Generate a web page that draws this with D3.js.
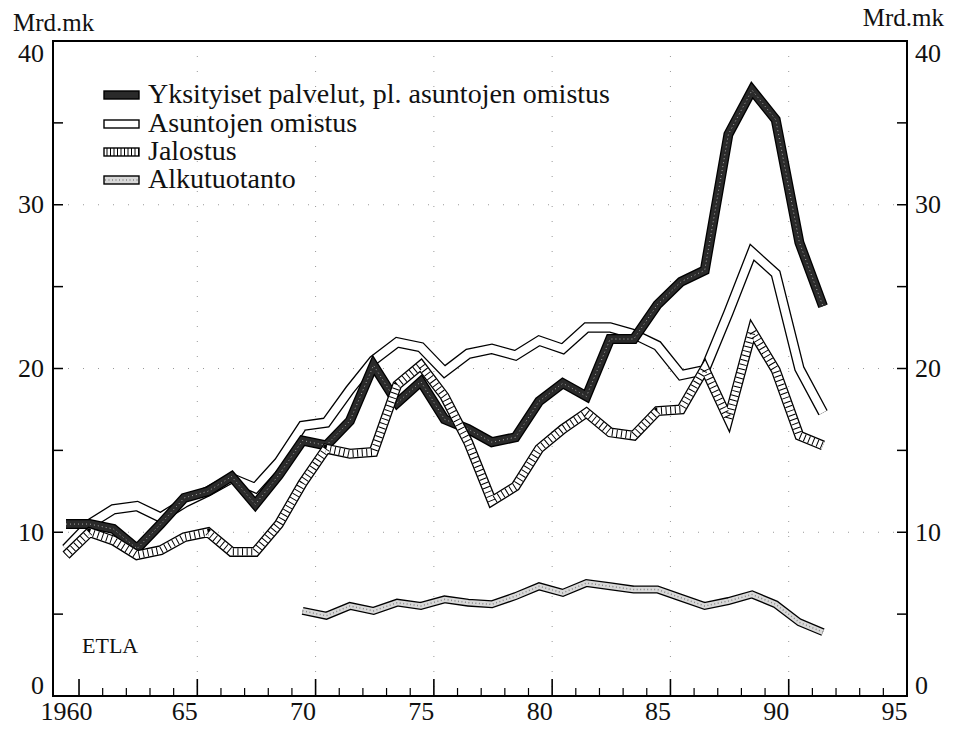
<!DOCTYPE html>
<html><head><meta charset="utf-8">
<script src="https://cdn.jsdelivr.net/npm/d3@7/dist/d3.min.js"></script>
<style>body{margin:0;background:#fff}text{font-family:"Liberation Serif","Times New Roman",serif;fill:#111}</style>
</head><body><svg id="c" width="957" height="729"></svg>
<script>
const years = d3.range(1960, 1993);
const yksityiset = [10.5,10.5,10.2,9.0,10.5,12.1,12.5,13.4,11.7,13.5,15.6,15.3,16.8,20.2,17.9,19.2,16.9,16.3,15.5,15.8,18.0,19.1,18.3,21.8,21.8,23.9,25.3,26.0,34.3,37.0,35.2,27.7,23.8];
const asuntojen = [9.0,10.5,11.4,11.6,10.9,11.8,12.5,13.3,12.7,14.3,16.5,16.7,18.7,20.5,21.6,21.3,19.8,20.9,21.2,20.8,21.7,21.2,22.5,22.5,22.1,21.4,19.6,19.9,23.4,27.1,25.8,20.0,17.3];
const jalostus = [8.6,10.0,9.5,8.6,8.9,9.7,10.0,8.8,8.8,10.5,13.0,15.1,14.8,14.9,19.0,20.2,18.3,15.5,11.9,12.8,15.1,16.3,17.3,16.1,15.9,17.4,17.5,20.0,16.9,22.3,19.9,15.9,15.3];
const alkutuotanto = [null,null,null,null,null,null,null,null,null,null,5.2,4.9,5.5,5.2,5.7,5.5,5.9,5.7,5.6,6.1,6.7,6.3,6.9,6.7,6.5,6.5,6.0,5.5,5.8,6.2,5.6,4.5,3.9];
const legendLabels = ["Yksityiset palvelut, pl. asuntojen omistus","Asuntojen omistus","Jalostus","Alkutuotanto"];
const xTickLabels = ["1960","65","70","75","80","85","90","95"];
const yTickValues = [0,10,20,30,40];

const svg = d3.select("#c");
const L=53, R=907, T=41, B=696;
const x = d3.scaleLinear().domain([1959.45,1995.55]).range([L,R]);
const y = d3.scaleLinear().domain([0,40]).range([B,T]);

// faint dotted grid
const g = svg.append("g");
[1965,1970,1975,1980,1985,1990].forEach(yr=>{
  g.append("line").attr("x1",x(yr+0.55)).attr("x2",x(yr+0.55)).attr("y1",T).attr("y2",B)
   .attr("stroke","#999").attr("stroke-width",1).attr("stroke-dasharray","1,14");
});
[10,20,30].forEach(v=>{
  g.append("line").attr("x1",L).attr("x2",R).attr("y1",y(v)).attr("y2",y(v))
   .attr("stroke","#999").attr("stroke-width",1).attr("stroke-dasharray","1,14");
});

// frame
svg.append("rect").attr("x",L).attr("y",T).attr("width",R-L).attr("height",B-T)
  .attr("fill","none").attr("stroke","#000").attr("stroke-width",2);

// x ticks (every year, inward)
d3.range(1960,1995).forEach(yr=>{
  const major = yr%5===0;
  svg.append("line").attr("x1",x(yr+0.55)).attr("x2",x(yr+0.55)).attr("y1",B).attr("y2",B-(major?17:8))
    .attr("stroke","#000").attr("stroke-width",major?1.6:1.2);
});
const xAxis = d3.axisBottom(x).tickValues([1960,1965,1970,1975,1980,1985,1990,1995]).tickSize(0).tickPadding(6)
  .tickFormat((d,i)=>xTickLabels[i]);
const xa = svg.append("g").attr("transform",`translate(0,${B})`).call(xAxis);
xa.select(".domain").remove();
xa.selectAll("text").style("font-size","26px").style("font-family","Liberation Serif").attr("fill","#111");

// y ticks inward both sides
d3.range(0,41,5).forEach(v=>{
  if(v===0||v===40) return;
  svg.append("line").attr("x1",L).attr("x2",L+10).attr("y1",y(v)).attr("y2",y(v)).attr("stroke","#000").attr("stroke-width",1.5);
  svg.append("line").attr("x1",R).attr("x2",R-10).attr("y1",y(v)).attr("y2",y(v)).attr("stroke","#000").attr("stroke-width",1.5);
});
function shiftEnds(sel){
  sel.selectAll(".tick").attr("transform",d=>`translate(0,${y(d)+(d===40?13:d===0?-10:0)})`);
}
const yl = d3.axisLeft(y).tickValues(yTickValues).tickSize(0).tickPadding(9);
const yla = svg.append("g").attr("transform",`translate(${L},0)`).call(yl);
yla.select(".domain").remove();
shiftEnds(yla);
yla.selectAll("text").style("font-size","26px").style("font-family","Liberation Serif").attr("fill","#111");
const yr = d3.axisRight(y).tickValues(yTickValues).tickSize(0).tickPadding(8);
const yra = svg.append("g").attr("transform",`translate(${R},0)`).call(yr);
yra.select(".domain").remove();
shiftEnds(yra);
yra.selectAll("text").style("font-size","26px").style("font-family","Liberation Serif").attr("fill","#111");

svg.append("text").attr("x",13).attr("y",31).style("font-size","25px").text("Mrd.mk");
svg.append("text").attr("x",944).attr("y",26).attr("text-anchor","end").style("font-size","25px").text("Mrd.mk");
svg.append("text").attr("x",82).attr("y",653).style("font-size","22px").text("ETLA");

const line = d3.line().defined(d=>d[1]!=null).x(d=>x(d[0])).y(d=>y(d[1]));
function band(vals, W, fill, extra){
  const data = years.map((yr,i)=>[yr,vals[i]]);
  const gg = svg.append("g").attr("fill","none").attr("stroke-linejoin","miter").attr("stroke-miterlimit",4);
  gg.append("path").attr("d",line(data)).attr("stroke","#000").attr("stroke-width",W);
  gg.append("path").attr("d",line(data)).attr("stroke",fill).attr("stroke-width",W-2.6);
  if(extra) extra(gg, line(data), W);
}
band(asuntojen, 10.5, "#fff");
band(yksityiset, 10, "#2a2a2a", (gg,d,W)=>{
  gg.append("path").attr("d",d).attr("stroke","#fff").attr("stroke-width",1).attr("stroke-dasharray","1,3").attr("opacity",0.6);
});
band(jalostus, 10, "#fff", (gg,d,W)=>{
  gg.append("path").attr("d",d).attr("stroke","#000").attr("stroke-width",W-2.6).attr("stroke-dasharray","1,3.6");
});
band(alkutuotanto, 8, "#d8d8d8", (gg,d,W)=>{
  gg.append("path").attr("d",d).attr("stroke","#888").attr("stroke-width",1.5).attr("stroke-dasharray","1,2.5");
});

// legend
const lg = svg.append("g");
const ly = [95,124,152,180];
legendLabels.forEach((t,i)=>{
  const yy = ly[i];
  lg.append("rect").attr("x",104).attr("y",yy-4).attr("width",35).attr("height",8).attr("stroke","#000").attr("stroke-width",1.4)
    .attr("fill",["#2a2a2a","#fff","#fff","#d8d8d8"][i]);
  if(i===2){
    d3.range(107,139,3.5).forEach(xx=>lg.append("line").attr("x1",xx).attr("x2",xx).attr("y1",yy-4).attr("y2",yy+4).attr("stroke","#000").attr("stroke-width",1));
  }
  if(i===3){
    lg.append("line").attr("x1",105).attr("x2",138).attr("y1",yy).attr("y2",yy).attr("stroke","#888").attr("stroke-width",1.5).attr("stroke-dasharray","1,2.5");
  }
  lg.append("text").attr("x",148).attr("y",yy+8).style("font-size","28px").text(t);
});
</script></body></html>
